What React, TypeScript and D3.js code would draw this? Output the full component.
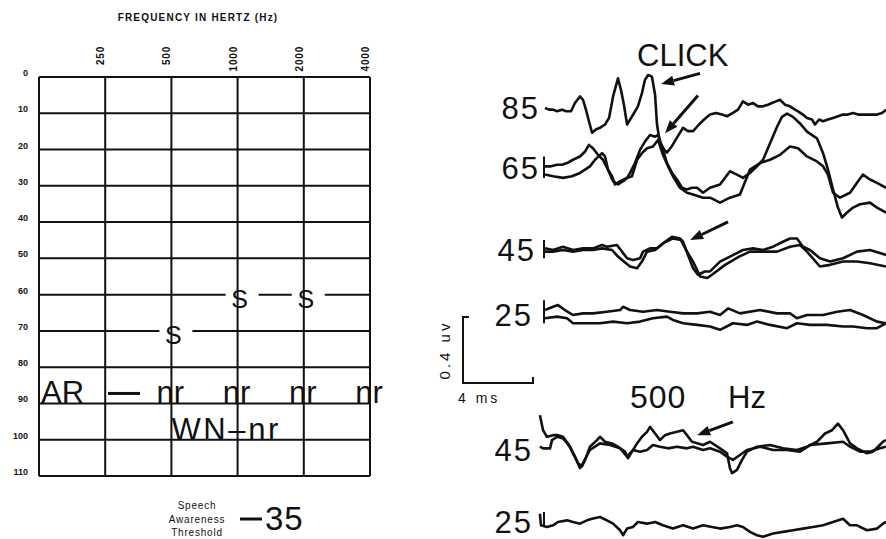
import React, { useEffect, useRef } from 'react';
import * as d3 from 'd3';

type Pt = [number, number];

// ---- audiogram ----
const freqGrid = [125, 250, 500, 1000, 2000, 4000];
const freqLabels = ['', '250', '500', '1000', '2000', '4000'];
const dbLevels = [0, 10, 20, 30, 40, 50, 60, 70, 80, 90, 100, 110];
const speechFreqs = [500, 1000, 2000];
const speechLevels = [70, 60, 60];
const reflexFreqs = [500, 1000, 2000, 4000];
const reflexLevel = 90;
const noiseReflexLevel = 100;
const speechAwareness = 35;

// ---- ABR traces: [ms, uV] relative to each row's baseline ----
const click85: Pt[] = [
  [0, 0], [0.23, -0.01], [0.46, -0.01], [0.69, -0.02], [0.97, -0.01], [1.2, -0.02], [1.49, -0.02],
  [1.71, 0.03], [2.0, 0.07], [2.17, 0.05], [2.34, -0.01], [2.51, -0.08], [2.69, -0.15], [2.91, -0.13],
  [3.14, -0.12], [3.43, -0.1], [3.66, -0.06], [3.89, 0.07], [4.17, 0.18], [4.34, 0.11], [4.51, 0.02],
  [4.69, -0.1], [4.86, -0.07], [5.09, -0.03], [5.31, 0.01], [5.54, 0.09], [5.71, 0.17], [5.89, 0.2],
  [6.11, 0.19], [6.29, 0.08], [6.4, -0.1], [6.57, -0.21], [6.8, -0.25], [6.97, -0.27], [7.26, -0.23],
  [7.54, -0.18], [7.89, -0.12], [8.17, -0.14], [8.46, -0.14], [8.8, -0.1], [9.09, -0.07], [9.43, -0.04],
  [9.77, -0.03], [10.11, -0.04], [10.4, -0.05], [10.74, -0.03], [11.03, -0.01], [11.31, 0.04],
  [11.6, 0.02], [11.89, 0.03], [12.17, 0.01], [12.46, 0.01], [12.74, 0.02], [12.97, 0.03], [13.2, 0.04],
  [13.43, 0.05], [13.71, 0.02], [14.0, 0.01], [14.29, -0.01], [14.46, -0.02], [14.74, -0.04],
  [14.97, -0.06], [15.26, -0.07], [15.43, -0.1], [15.66, -0.07], [15.89, -0.08], [16.17, -0.07],
  [16.46, -0.06], [16.74, -0.05], [17.03, -0.04], [17.31, -0.04], [17.6, -0.03], [17.89, -0.04],
  [18.11, -0.04], [18.4, -0.04], [18.69, -0.04], [18.97, -0.04], [19.26, -0.03], [19.49, -0.01],
];

const click65a: Pt[] = [
  [0, 0.01], [0.34, 0.01], [0.69, 0.02], [0.97, 0.02], [1.26, 0.03], [1.6, 0.05], [2.0, 0.07],
  [2.29, 0.1], [2.51, 0.14], [2.74, 0.12], [3.03, 0.08], [3.31, 0.05], [3.6, -0.01], [3.83, -0.05],
  [4.0, -0.1], [4.29, -0.08], [4.69, -0.06], [4.86, -0.03], [5.14, 0.03], [5.43, 0.11], [5.71, 0.16],
  [6.0, 0.2], [6.29, 0.19], [6.46, 0.2], [6.69, 0.13], [6.97, 0.03], [7.26, -0.03], [7.54, -0.07],
  [7.83, -0.12], [8.11, -0.13], [8.4, -0.12], [8.69, -0.12], [9.03, -0.15], [9.43, -0.12],
  [10.0, -0.1], [10.57, -0.02], [10.97, -0.04], [11.31, -0.06], [11.71, -0.03], [12.11, 0.01],
  [12.46, 0.05], [12.86, 0.15], [13.26, 0.25], [13.54, 0.31], [13.83, 0.33], [14.17, 0.31],
  [14.57, 0.27], [14.97, 0.22], [15.54, 0.18], [15.89, 0.09], [16.17, -0.01], [16.46, -0.13],
  [16.74, -0.24], [16.97, -0.3], [17.26, -0.27], [17.6, -0.24], [18.0, -0.22], [18.57, -0.21],
  [18.97, -0.24], [19.49, -0.27],
];

const click65b: Pt[] = [
  [0, -0.04], [0.46, -0.05], [1.03, -0.06], [1.54, -0.05], [2.0, -0.03], [2.57, 0.01], [2.86, 0.05],
  [3.26, 0.09], [3.43, 0.07], [3.6, -0.01], [3.89, -0.08], [4.17, -0.1], [4.46, -0.08], [4.69, -0.06],
  [4.97, -0.05], [5.26, 0.05], [5.54, 0.09], [5.83, 0.12], [6.17, 0.13], [6.46, 0.17], [6.74, 0.08],
  [7.03, 0.01], [7.31, -0.05], [7.71, -0.12], [8.11, -0.15], [8.46, -0.16], [9.03, -0.18],
  [9.43, -0.18], [10.0, -0.21], [10.57, -0.18], [11.14, -0.16], [11.71, -0.01], [12.29, 0.03],
  [12.86, 0.05], [13.43, 0.08], [14.0, 0.13], [14.46, 0.12], [14.97, 0.07], [15.54, 0.04],
  [15.89, 0.01], [16.17, -0.04], [16.46, -0.15], [16.86, -0.18], [17.43, -0.15], [17.83, -0.09],
  [18.17, -0.04], [18.57, -0.07], [18.97, -0.09], [19.49, -0.12],
];

const click45a: Pt[] = [
  [0, 0.01], [0.46, 0], [1.03, 0.02], [1.6, 0], [2.17, 0.01], [2.74, 0.01], [3.26, 0.03], [3.54, 0.02],
  [4.11, 0.03], [4.4, -0.01], [4.69, -0.05], [5.03, -0.06], [5.43, -0.05], [5.6, -0.01], [6.0, 0.01],
  [6.4, 0.01], [6.86, 0.05], [7.26, 0.08], [7.71, 0.07], [7.89, 0.05], [8.17, -0.03], [8.46, -0.11],
  [8.74, -0.15], [9.14, -0.13], [9.43, -0.13], [10.0, -0.07], [10.57, -0.04], [11.31, 0], [11.89, 0.01],
  [12.46, 0], [13.03, 0.02], [13.6, 0.05], [14.0, 0.07], [14.4, 0.07], [14.74, 0.02], [15.14, 0],
  [15.71, -0.05], [16.29, -0.07], [17.03, -0.05], [17.83, -0.01], [18.57, 0], [19.49, -0.03],
];

const click45b: Pt[] = [
  [0, -0.01], [0.46, -0.01], [1.03, 0], [1.6, -0.01], [2.17, 0], [2.74, 0], [3.26, 0.01], [3.83, 0],
  [4.17, -0.04], [4.51, -0.07], [4.86, -0.1], [5.26, -0.11], [5.54, -0.07], [5.83, -0.01], [6.29, 0],
  [6.74, 0.04], [7.31, 0.07], [7.77, 0.06], [8.06, 0], [8.46, -0.07], [8.86, -0.16], [9.26, -0.17],
  [9.54, -0.15], [10.29, -0.09], [11.09, -0.04], [11.71, -0.01], [12.46, -0.01], [13.26, -0.01],
  [14.0, 0.02], [14.57, 0.03], [14.97, -0.01], [15.71, -0.1], [16.29, -0.09], [17.03, -0.07],
  [17.83, -0.07], [18.57, -0.08], [19.49, -0.1],
];

const click25a: Pt[] = [
  [0, 0.03], [0.46, 0.05], [0.74, 0.06], [1.14, 0.03], [1.6, 0], [2.17, 0.01], [2.74, 0.01], [3.54, 0.02],
  [4.29, 0.03], [4.46, 0.05], [4.86, 0.03], [5.6, 0.02], [6.4, 0.03], [7.14, 0.02], [7.89, 0.01],
  [8.69, 0.01], [9.43, 0.02], [10.0, 0], [10.46, 0.04], [11.14, 0.01], [12.29, 0.03], [13.26, 0.01],
  [14.0, 0.01], [14.4, -0.02], [14.97, 0], [15.89, 0], [16.69, 0.02], [17.43, 0.03], [18.17, 0],
  [18.97, -0.04], [19.49, -0.05],
];

const click25b: Pt[] = [
  [0, -0.02], [0.69, -0.01], [1.26, -0.02], [1.6, -0.05], [2.4, -0.05], [3.14, -0.05], [3.89, -0.04],
  [4.69, -0.05], [5.43, -0.04], [6.17, -0.02], [6.97, -0.01], [7.31, -0.03], [7.89, -0.05], [8.69, -0.06],
  [9.43, -0.07], [10.0, -0.09], [10.74, -0.05], [11.54, -0.06], [12.11, -0.04], [12.86, -0.06],
  [13.83, -0.08], [14.4, -0.05], [15.14, -0.06], [16.11, -0.06], [17.03, -0.07], [17.6, -0.07],
  [18.4, -0.08], [18.97, -0.08], [19.49, -0.05],
];

const tone45a: Pt[] = [
  [-0.29, 0.21], [-0.11, 0.12], [0.11, 0.08], [0.46, 0.09], [0.74, 0.09], [1.03, 0.08], [1.31, 0.04],
  [1.6, -0.02], [1.89, -0.08], [2.11, -0.1], [2.29, -0.06], [2.57, 0.02], [2.97, 0.06], [3.14, 0.08],
  [3.43, 0.05], [3.83, 0.04], [4.17, 0.02], [4.57, -0.01], [4.74, -0.05], [4.97, -0.01], [5.26, 0.04],
  [5.54, 0.08], [5.83, 0.11], [6.0, 0.14], [6.29, 0.1], [6.57, 0.06], [6.86, 0.09], [7.14, 0.1],
  [7.54, 0.11], [7.89, 0.12], [8.11, 0.09], [8.4, 0.05], [8.74, 0.04], [9.03, 0.03], [9.43, 0.05],
  [10.0, 0.01], [10.4, -0.02], [10.57, -0.11], [10.69, -0.14], [10.97, -0.12], [11.26, -0.06],
  [11.54, -0.01], [12.11, 0.02], [12.86, 0.03], [13.6, 0.01], [14.4, 0], [14.97, 0.02], [15.54, 0.05],
  [16.0, 0.1], [16.4, 0.12], [16.74, 0.16], [17.03, 0.12], [17.43, 0.04], [17.83, 0.01], [18.4, -0.02],
  [18.74, -0.01], [19.03, 0.02], [19.31, 0.05], [19.49, 0.06],
];

const tone45b: Pt[] = [
  [-0.29, 0.02], [-0.11, 0.01], [0.29, 0.01], [0.4, 0.06], [0.69, 0.08], [1.03, 0.07], [1.43, 0.02],
  [1.71, -0.04], [2.0, -0.11], [2.17, -0.08], [2.57, 0], [3.14, 0.04], [3.71, 0.03], [4.29, 0.01],
  [4.69, -0.04], [5.03, 0], [5.43, -0.01], [5.83, 0], [6.17, 0.03], [6.57, 0.02], [7.03, 0.01],
  [7.54, 0.02], [8.11, 0.01], [8.46, 0.02], [9.03, 0], [9.43, 0.01], [10.0, -0.01], [10.4, -0.04],
  [10.74, -0.06], [11.14, -0.03], [11.54, 0], [12.29, 0.02], [13.03, 0], [13.83, 0], [14.57, -0.01],
  [15.14, 0.03], [16.11, 0.04], [17.03, 0.05], [17.43, 0.02], [18.0, -0.01], [18.57, -0.01],
  [19.14, 0.01], [19.49, 0.02],
];

const tone25: Pt[] = [
  [-0.29, 0.05], [-0.23, -0.02], [0.11, -0.03], [0.46, -0.02], [0.74, 0], [1.26, 0.01], [1.6, 0],
  [2.0, -0.01], [2.4, 0.01], [2.69, 0.02], [3.14, 0.03], [3.54, 0.01], [3.89, -0.01], [4.29, -0.05],
  [4.46, -0.08], [4.69, -0.04], [5.03, -0.03], [5.31, 0], [5.83, -0.01], [6.29, 0], [6.74, -0.02],
  [7.31, -0.04], [7.89, -0.02], [8.46, -0.04], [9.03, -0.02], [9.54, -0.03], [10.0, -0.04],
  [10.57, -0.03], [10.97, -0.02], [11.31, -0.03], [11.71, -0.06], [12.11, -0.08], [12.46, -0.09],
  [13.03, -0.07], [13.6, -0.06], [14.17, -0.05], [14.74, -0.04], [15.31, -0.03], [15.89, -0.02],
  [16.46, 0], [17.03, 0.02], [17.43, -0.02], [17.83, -0.02], [18.4, -0.05], [18.97, -0.04],
  [19.31, -0.01], [19.49, 0],
];

const rowLabels = ['85', '65', '45', '25', '45', '25'];
const rowTraces: Pt[][][] = [
  [click85],
  [click65a, click65b],
  [click45a, click45b],
  [click25a, click25b],
  [tone45a, tone45b],
  [tone25],
];
// start brackets (uV range) for each row, null = none
const rowBrackets: (Pt | null)[] = [null, [-0.06, 0.07], [-0.05, 0.06], [-0.05, 0.09], null, [-0.02, 0.06]];

// arrows: row, tail [ms, uV], tip [ms, uV]
const arrowRows = [0, 1, 2, 4];
const arrowTails: Pt[] = [[8.86, 0.21], [8.74, 0.44], [10.46, 0.17], [10.74, 0.17]];
const arrowTips: Pt[] = [[6.63, 0.145], [6.86, 0.21], [8.29, 0.06], [8.69, 0.09]];

const App = () => {
  const svgRef = useRef<SVGSVGElement>(null);

  useEffect(() => {
    const svg = d3.select(svgRef.current);
    svg.selectAll('*').remove();

    const ink = '#111';
    const sans = "'Liberation Sans', Arial, sans-serif";

    svg.append('rect').attr('width', 886).attr('height', 539).attr('fill', '#fff');

    // ===== Audiogram =====
    const fx = d3.scaleLog().base(2).domain([125, 4000]).range([39, 370]);
    const fy = d3.scaleLinear().domain([0, 110]).range([77, 476]);
    const aud = svg.append('g');

    aud.append('text')
      .attr('x', 198)
      .attr('y', 21)
      .attr('text-anchor', 'middle')
      .style('font-family', sans)
      .style('font-weight', 'bold')
      .style('font-size', '10px')
      .style('letter-spacing', '1.2px')
      .attr('fill', ink)
      .text('FREQUENCY IN HERTZ (Hz)');

    // horizontal grid, broken around the S symbols
    dbLevels.forEach(db => {
      const gaps = speechFreqs
        .map((f, i) => ({ f, db: speechLevels[i] }))
        .filter(d => d.db === db)
        .map(d => [fx(d.f) - 12, fx(d.f) + 21])
        .sort((a, b) => a[0] - b[0]);
      let start = fx(125);
      gaps.forEach(g => {
        aud.append('line')
          .attr('x1', start).attr('x2', g[0])
          .attr('y1', fy(db)).attr('y2', fy(db))
          .attr('stroke', ink).attr('stroke-width', 2);
        start = g[1];
      });
      aud.append('line')
        .attr('x1', start).attr('x2', fx(4000))
        .attr('y1', fy(db)).attr('y2', fy(db))
        .attr('stroke', ink).attr('stroke-width', 2);

      aud.append('text')
        .attr('x', 28)
        .attr('y', fy(db) - 1)
        .attr('text-anchor', 'end')
        .style('font-family', sans)
        .style('font-weight', 'bold')
        .style('font-size', '9px')
        .attr('fill', ink)
        .text(db);
    });

    // vertical grid
    freqGrid.forEach((f, i) => {
      aud.append('line')
        .attr('x1', fx(f)).attr('x2', fx(f))
        .attr('y1', fy(0)).attr('y2', fy(110))
        .attr('stroke', ink).attr('stroke-width', 2);
      if (freqLabels[i]) {
        aud.append('text')
          .attr('transform', `translate(${fx(f) - 1},46) rotate(-90)`)
          .attr('text-anchor', 'end')
          .style('font-family', sans)
          .style('font-weight', 'bold')
          .style('font-size', '10px')
          .style('letter-spacing', '0.8px')
          .attr('fill', ink)
          .text(freqLabels[i]);
      }
    });

    // speech thresholds
    speechFreqs.forEach((f, i) => {
      aud.append('text')
        .attr('x', fx(f) + 2)
        .attr('y', fy(speechLevels[i]) + 13)
        .attr('text-anchor', 'middle')
        .style('font-family', sans)
        .style('font-size', '25px')
        .attr('fill', ink)
        .text('S');
    });

    // acoustic reflex row
    const big = (sel: any) => sel.style('font-family', sans).style('font-size', '31px').attr('fill', ink);
    big(aud.append('text').attr('x', 41).attr('y', fy(reflexLevel)).text('AR'));
    aud.append('line')
      .attr('x1', 108).attr('x2', 140)
      .attr('y1', fy(reflexLevel) - 10).attr('y2', fy(reflexLevel) - 10)
      .attr('stroke', ink).attr('stroke-width', 3);
    reflexFreqs.forEach(f => {
      big(aud.append('text')
        .attr('x', fx(f) - 1)
        .attr('y', fy(reflexLevel))
        .attr('text-anchor', 'middle')
        .text('nr'));
    });
    big(aud.append('text')
      .attr('x', fx(500))
      .attr('y', fy(noiseReflexLevel))
      .attr('textLength', 107)
      .attr('lengthAdjust', 'spacing')
      .text('WN–nr'));

    // speech awareness threshold
    ['Speech', 'Awareness', 'Threshold'].forEach((t, i) => {
      aud.append('text')
        .attr('x', 197)
        .attr('y', 509 + i * 13.5)
        .attr('text-anchor', 'middle')
        .style('font-family', sans)
        .style('font-size', '10px')
        .style('letter-spacing', '0.8px')
        .attr('fill', ink)
        .text(t);
    });
    aud.append('line')
      .attr('x1', 240).attr('x2', 262)
      .attr('y1', 519).attr('y2', 519)
      .attr('stroke', ink).attr('stroke-width', 3);
    aud.append('text')
      .attr('x', 265)
      .attr('y', 530)
      .style('font-family', sans)
      .style('font-size', '33px')
      .style('letter-spacing', '1px')
      .attr('fill', ink)
      .text(String(speechAwareness));

    // ===== ABR waveforms =====
    const tx = d3.scaleLinear().domain([0, 20]).range([545, 895]);
    const amp = d3.scaleLinear().domain([0, 0.4]).range([0, -66]);
    const rowBase = [108, 168, 250, 315, 450, 522];
    const rowLabelX = [540, 540, 536, 533, 533, 533];
    const abr = svg.append('g');

    rowTraces.forEach((traces, r) => {
      const base = rowBase[r];
      const line = d3.line<Pt>()
        .x(d => tx(d[0]))
        .y(d => base + amp(d[1]));

      abr.append('text')
        .attr('x', rowLabelX[r])
        .attr('y', base + 11)
        .attr('text-anchor', 'end')
        .style('font-family', sans)
        .style('font-size', '31px')
        .style('letter-spacing', '2px')
        .attr('fill', ink)
        .text(rowLabels[r]);

      const br = rowBrackets[r];
      if (br) {
        abr.append('line')
          .attr('x1', tx(0) - 1).attr('x2', tx(0) - 1)
          .attr('y1', base + amp(br[0])).attr('y2', base + amp(br[1]))
          .attr('stroke', ink).attr('stroke-width', 2);
      }

      traces.forEach(tr => {
        abr.append('path')
          .datum(tr)
          .attr('d', line)
          .attr('fill', 'none')
          .attr('stroke', ink)
          .attr('stroke-width', 2.6)
          .attr('stroke-linejoin', 'round');
      });
    });

    // arrows
    arrowRows.forEach((r, i) => {
      const base = rowBase[r];
      const x1 = tx(arrowTails[i][0]), y1 = base + amp(arrowTails[i][1]);
      const x2 = tx(arrowTips[i][0]), y2 = base + amp(arrowTips[i][1]);
      const ang = Math.atan2(y2 - y1, x2 - x1);
      const hl = 13, hw = 5;
      const bx = x2 - hl * Math.cos(ang), by = y2 - hl * Math.sin(ang);
      abr.append('line')
        .attr('x1', x1).attr('y1', y1).attr('x2', bx).attr('y2', by)
        .attr('stroke', ink).attr('stroke-width', 3);
      abr.append('polygon')
        .attr('points', [
          [x2, y2],
          [bx + hw * Math.sin(ang), by - hw * Math.cos(ang)],
          [bx - hw * Math.sin(ang), by + hw * Math.cos(ang)],
        ].map(p => p.join(',')).join(' '))
        .attr('fill', ink);
    });

    abr.append('text')
      .attr('x', 637).attr('y', 66)
      .style('font-family', sans).style('font-size', '31px')
      .attr('fill', ink)
      .text('CLICK');

    abr.append('text')
      .attr('x', 630).attr('y', 408)
      .style('font-family', sans).style('font-size', '32px').style('letter-spacing', '1px')
      .attr('fill', ink)
      .text('500');
    abr.append('text')
      .attr('x', 728).attr('y', 408)
      .style('font-family', sans).style('font-size', '31px')
      .attr('fill', ink)
      .text('Hz');

    // calibration bar: 0.4 uV x 4 ms
    const bx0 = 463, by0 = 383;
    const barTop = by0 + amp(0.4);
    const barRight = bx0 + tx(4) - tx(0);
    abr.append('path')
      .attr('d', `M${bx0 + 6},${barTop} H${bx0} V${by0} H${barRight} V${by0 - 6}`)
      .attr('fill', 'none')
      .attr('stroke', ink)
      .attr('stroke-width', 2);
    abr.append('text')
      .attr('transform', `translate(450,${(barTop + by0) / 2}) rotate(-90)`)
      .attr('text-anchor', 'middle')
      .style('font-family', sans).style('font-size', '15px').style('letter-spacing', '3px')
      .attr('fill', ink)
      .text('0.4 uv');
    abr.append('text')
      .attr('x', 458).attr('y', 403)
      .style('font-family', sans).style('font-size', '14px').style('letter-spacing', '3px')
      .attr('fill', ink)
      .text('4 ms');
  }, []);

  return (
    <svg
      ref={svgRef}
      width={886}
      height={539}
      style={{ position: 'absolute', left: 0, top: 0, background: '#fff' }}
    />
  );
};

export default App;
